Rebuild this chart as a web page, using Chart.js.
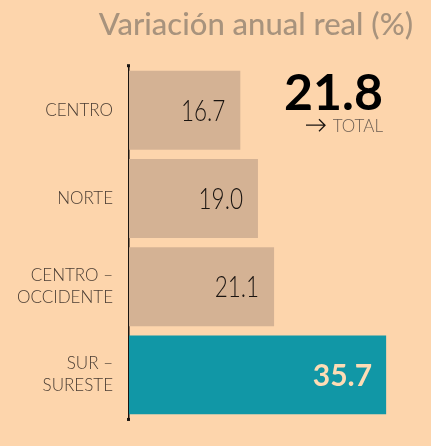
<!DOCTYPE html>
<html>
<head>
<meta charset="utf-8">
<script src="https://cdn.jsdelivr.net/npm/chart.js@4/dist/chart.umd.min.js"></script>
<style>
  html, body { margin: 0; padding: 0; background: #fdd5ac; }
  canvas { display: block; }
</style>
</head>
<body>
<canvas id="myChart" width="431" height="446"></canvas>
<script>
const regiones = [['CENTRO'], ['NORTE'], ['CENTRO –', 'OCCIDENTE'], ['SUR –', 'SURESTE']];
const variacion = [16.7, 19.0, 21.1, 35.7];
const totalNacional = 21.8;
const colores = ['#d4b294', '#d4b294', '#d4b294', '#1197a6'];

// etiquetas de valor dentro de cada barra + total
const etiquetas = {
  id: 'etiquetas',
  afterDatasetsDraw(chart) {
    const ctx = chart.ctx;
    const meta = chart.getDatasetMeta(0);
    meta.data.forEach((bar, i) => {
      const txt = variacion[i].toFixed(1);
      ctx.save();
      ctx.textBaseline = 'middle';
      ctx.textAlign = 'right';
      if (i === variacion.length - 1) {
        ctx.font = 'bold 30px Lato';
        ctx.fillStyle = '#fddcb5';
        ctx.fillText(txt, bar.x - 14, bar.y + 1);
      } else {
        ctx.font = '300 30px Lato';
        ctx.fillStyle = '#1a1410';
        ctx.translate(bar.x - 15, bar.y + 1);
        ctx.scale(0.75, 1);
        ctx.fillText(txt, 0, 0);
      }
      ctx.restore();
    });

    const a = chart.chartArea;
    const xr = a.right - 30;
    ctx.save();
    ctx.textAlign = 'right';
    ctx.textBaseline = 'alphabetic';
    ctx.fillStyle = '#000';
    ctx.font = 'bold 50px Lato';
    ctx.fillText(totalNacional.toFixed(1), xr, a.top + 44);
    ctx.font = '300 17px Lato';
    ctx.fillStyle = '#6b5d52';
    ctx.fillText('TOTAL', xr, a.top + 66);
    // flecha
    const ay = a.top + 59;
    ctx.strokeStyle = '#1a1410';
    ctx.lineWidth = 1.3;
    ctx.beginPath();
    ctx.moveTo(xr - 77, ay);
    ctx.lineTo(xr - 58, ay);
    ctx.moveTo(xr - 64, ay - 6);
    ctx.lineTo(xr - 58, ay);
    ctx.lineTo(xr - 64, ay + 6);
    ctx.stroke();
    // puntos en los extremos del eje
    ctx.fillStyle = '#1a1410';
    ctx.fillRect(a.left - 2, a.top - 2, 3, 3);
    ctx.fillRect(a.left - 2, a.bottom - 1, 3, 3);
    ctx.restore();
  }
};

const ctx = document.getElementById('myChart').getContext('2d');
const myChart = new Chart(ctx, {
  type: 'bar',
  data: {
    labels: regiones,
    datasets: [{
      data: variacion,
      backgroundColor: colores,
      borderWidth: 0,
      barPercentage: 0.895,
      categoryPercentage: 1
    }]
  },
  options: {
    responsive: false,
    animation: false,
    indexAxis: 'y', // barras horizontales
    layout: { padding: { left: 0, right: 18, top: 0, bottom: 27 } },
    plugins: {
      legend: { display: false },
      tooltip: { enabled: false },
      title: {
        display: true,
        text: 'Variación anual real (%)',
        align: 'end',
        color: '#a8937d',
        font: { family: 'Lato', size: 31, weight: '500', lineHeight: 1.2 },
        padding: { top: 6, bottom: 23 }
      }
    },
    scales: {
      x: {
        display: false,
        min: 2.2,
        max: 39.2
      },
      y: {
        afterFit(scale) { scale.width = 129; },
        grid: { display: false, drawTicks: false, tickLength: 0 },
        border: { display: true, color: '#1a1410', width: 1.5 },
        ticks: {
          padding: 16,
          color: '#4a3d33',
          font: { family: 'Lato', size: 17, weight: '300', lineHeight: 1.3 }
        }
      }
    }
  },
  plugins: [etiquetas]
});
</script>
</body>
</html>
